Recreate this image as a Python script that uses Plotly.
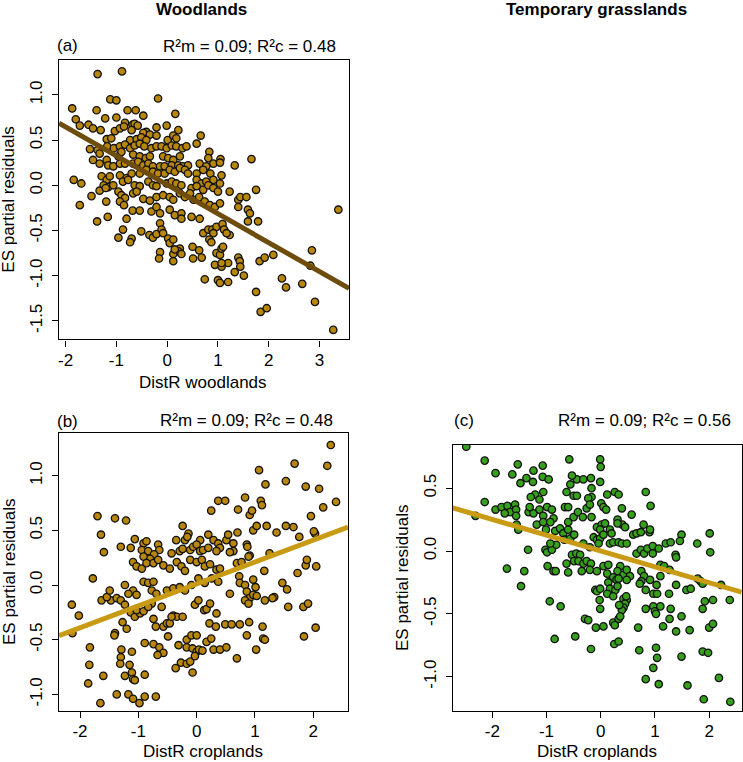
import plotly.graph_objects as go

W, H = 743, 762
FONT = "Liberation Sans, Arial, sans-serif"

# ---------------- data ----------------
col_titles = ["Woodlands", "Temporary grasslands"]
panel_tags = ["(a)", "(b)", "(c)"]
r2_texts = ["R²m = 0.09; R²c = 0.48", "R²m = 0.09; R²c = 0.48", "R²m = 0.09; R²c = 0.56"]
x_titles = ["DistR woodlands", "DistR croplands", "DistR croplands"]
y_title = "ES partial residuals"

# panel (a): DistR woodlands vs ES partial residuals
pts_a = [(-1.37,1.23),(-0.89,1.26),(-0.18,0.96),(-1.12,0.95),(-1.0,0.94),(-1.87,0.85),(-1.39,0.83),(-0.78,0.83),
 (-0.62,0.83),(0.16,0.79),(-0.47,0.77),(-1.80,0.73),(-1.22,0.74),(-1.0,0.75),(-1.72,0.66),(-1.55,0.67),(-1.46,0.63),
 (-0.83,0.69),(-0.68,0.67),(-0.64,0.68),(-0.58,0.66),(-0.01,0.66),(-0.21,0.64),(-1.31,0.61),(-1.03,0.60),(-0.93,0.63),
 (-0.85,0.65),(-0.70,0.61),(0.22,0.61),(-0.41,0.59),(-0.47,0.58),(-0.34,0.56),(0.66,0.55),(-0.21,0.55),(-1.19,0.51),
 (-1.10,0.52),(-0.73,0.50),(-0.60,0.51),(-0.51,0.53),(-0.41,0.50),(0.01,0.50),(0.12,0.55),(0.18,0.52),(-1.52,0.40),
 (-1.37,0.39),(-1.33,0.35),(-1.18,0.43),(-1.05,0.41),(-0.93,0.43),(-0.83,0.45),(-0.73,0.41),(-0.64,0.44),(-0.54,0.46),
 (-0.45,0.43),(-0.31,0.41),(-0.21,0.43),(-0.11,0.43),(-0.01,0.41),(0.09,0.44),(0.18,0.43),(0.30,0.41),(0.38,0.43),
 (0.58,0.46),(0.83,0.37),(1.05,0.29),(1.66,0.29),(1.33,0.22),(0.91,0.24),(1.04,0.25),(0.64,0.24),(0.77,0.21),(0.81,0.30),
 (-1.33,0.24),(-1.19,0.28),(-0.96,0.32),(-0.90,0.37),(-0.67,0.34),(-0.54,0.32),(-0.42,0.30),(-0.34,0.32),(-0.08,0.32),
 (0.02,0.30),(0.12,0.28),(0.25,0.32),(-1.46,0.28),(-1.16,0.22),(-1.06,0.21),(-0.93,0.24),(-0.83,0.24),(-0.67,0.24),
 (-0.57,0.26),(-0.47,0.22),(-0.37,0.24),(-0.28,0.21),(-0.14,0.21),(-0.05,0.21),(0.09,0.22),(0.22,0.22),(0.31,0.21),
 (0.41,0.22),(0.58,0.13),(0.71,0.17),(0.85,0.13),(1.07,0.11),(-1.84,0.06),(-1.69,0.02),(-1.29,0.10),(-1.19,0.06),
 (-1.13,0.10),(-0.93,0.11),(-0.80,0.08),(-0.70,0.13),(-0.54,0.13),(-0.41,0.17),(-0.28,0.15),(-0.18,0.13),(-0.05,0.13),
 (0.05,0.17),(0.15,0.15),(0.25,0.19),(0.35,0.17),(0.41,0.13),(0.58,0.06),(0.68,0.02),(0.77,0.04),(0.91,0.06),(1.04,0.02),
 (-1.25,0.0),(-1.16,-0.02),(-1.06,0.0),(-0.87,0.04),(-0.77,0.06),(-0.64,0.0),(-0.54,-0.01),(-0.37,0.04),(-0.28,0.0),
 (-0.21,-0.01),(-0.01,0.02),(0.09,0.04),(0.18,0.02),(0.28,0.0),(0.48,-0.03),(0.58,-0.01),(0.71,-0.05),(0.81,0.0),
 (0.91,-0.03),(1.0,-0.07),(1.23,-0.07),(1.75,-0.05),(-1.72,-0.22),(-1.49,-0.12),(-1.33,-0.06),(-1.21,-0.03),(-0.96,-0.07),
 (-0.90,-0.11),(-0.83,-0.14),(-1.20,-0.18),(-0.93,-0.18),(-0.85,-0.22),(-0.67,-0.09),(-0.60,-0.07),(-0.47,-0.15),
 (-0.34,-0.17),(-0.21,-0.13),(-0.08,-0.11),(0.05,-0.13),(0.12,-0.16),(0.25,-0.09),(0.35,-0.13),(0.45,-0.09),(0.52,-0.16),
 (0.63,-0.13),(0.74,-0.18),(0.84,-0.22),(0.94,-0.24),(1.04,-0.20),(1.40,-0.16),(1.44,-0.13),(1.56,-0.13),(1.40,-0.24),
 (1.59,-0.27),(1.63,-0.31),(1.59,-0.40),(1.79,-0.40),(3.37,-0.27),(-1.38,-0.40),(-1.17,-0.35),(-0.80,-0.37),(-0.68,-0.28),
 (-0.54,-0.28),(-0.31,-0.29),(-0.21,-0.24),(-0.14,-0.31),(0.05,-0.27),(0.15,-0.33),(0.28,-0.31),(0.28,-0.37),(0.48,-0.35),
 (0.64,-0.37),(0.71,-0.53),(0.81,-0.49),(0.89,-0.49),(0.97,-0.46),(1.09,-0.43),(1.12,-0.49),(1.23,-0.55),(1.17,-0.53),
 (-0.87,-0.49),(-0.96,-0.58),(-0.70,-0.59),(-0.73,-0.63),(-0.51,-0.51),(-0.35,-0.55),(-0.28,-0.58),(-0.21,-0.54),
 (-0.14,-0.42),(-0.11,-0.49),(-0.08,-0.53),(0.02,-0.59),(0.05,-0.64),(0.12,-0.60),(0.25,-0.70),(0.22,-0.73),(0.28,-0.76),
 (0.12,-0.76),(0.15,-0.71),(-0.14,-0.74),(-0.16,-0.81),(0.50,-0.68),(0.51,-0.81),(0.63,-0.72),(0.68,-0.80),(0.83,-0.60),
 (0.87,-0.63),(0.91,-0.53),(0.97,-0.75),(1.04,-0.77),(1.07,-0.70),(1.10,-0.68),(0.12,-0.84),(0.94,-0.88),(1.07,-0.90),
 (1.20,-0.86),(1.07,-0.86),(1.40,-0.80),(1.43,-0.84),(1.44,-0.90),(1.33,-0.96),(1.51,-1.0),(0.74,-1.04),(1.0,-1.05),
 (1.04,-1.08),(1.20,-1.07),(1.75,-1.18),(1.82,-0.84),(1.92,-0.80),(2.09,-0.77),(2.26,-1.03),(2.34,-1.13),(2.66,-1.09),
 (2.85,-0.72),(2.82,-0.89),(2.91,-1.29),(1.84,-1.40),(1.96,-1.36),(3.27,-1.60)]

# panel (b): DistR croplands vs ES partial residuals (woodlands)
pts_b = [(2.30,1.28),(1.68,1.11),(2.24,1.09),(1.07,1.05),(1.53,0.95),(1.18,0.92),(1.87,0.90),(2.10,0.88),(2.39,0.76),
 (2.17,0.71),(1.10,0.77),(1.12,0.73),(0.83,0.80),(0.37,0.77),(0.49,0.77),(0.25,0.68),(0.71,0.69),(0.91,0.64),(0.95,0.68),
 (1.96,0.63),(-1.70,0.63),(-1.40,0.61),(-1.21,0.59),(-1.64,0.46),(-1.59,0.30),(-1.30,0.35),(-1.13,0.34),(-1.06,0.42),
 (-1.78,0.06),(-0.24,0.54),(-0.35,0.41),(-0.20,0.41),(-0.14,0.47),(-0.16,0.44),(0.06,0.41),(0.20,0.46),(0.29,0.41),
 (0.37,0.38),(0.51,0.41),(0.54,0.46),(0.63,0.38),(0.70,0.48),(0.97,0.50),(1.03,0.54),(1.20,0.54),(1.37,0.48),(1.53,0.54),
 (1.66,0.53),(1.76,0.44),(2.03,0.47),(0.86,0.37),(0.87,0.35),(-0.91,0.38),(-0.86,0.40),(-0.94,0.32),(-0.83,0.31),
 (-0.66,0.37),(-0.64,0.32),(-0.73,0.28),(-0.80,0.24),(-0.91,0.26),(-0.43,0.29),(-0.29,0.31),(-0.24,0.33),(-0.11,0.32),
 (-0.06,0.35),(0.0,0.37),(0.06,0.31),(0.11,0.32),(0.20,0.34),(0.40,0.34),(0.34,0.31),(0.63,0.31),(0.57,0.30),(1.25,0.29),
 (-1.09,0.21),(-1.03,0.17),(-0.94,0.15),(-0.86,0.20),(-0.74,0.20),(-0.66,0.23),(-0.57,0.18),(-0.46,0.15),(-0.34,0.21),
 (-0.26,0.17),(-0.20,0.13),(-0.11,0.23),(0.0,0.21),(0.09,0.23),(0.14,0.17),(0.23,0.19),(0.34,0.14),(0.40,0.15),(0.69,0.20),
 (0.77,0.21),(0.91,0.27),(0.89,0.26),(1.16,0.13),(1.73,0.11),(1.87,0.18),(1.89,0.23),(2.05,0.17),(2.01,0.49),(-1.23,0.0),
 (-1.09,-0.05),(-1.03,-0.09),(-1.17,-0.08),(-0.91,0.03),(-0.83,0.02),(-0.74,0.03),(-0.77,-0.05),(-0.69,-0.08),(-0.51,-0.05),
 (-0.40,-0.03),(-0.29,-0.02),(-0.20,-0.05),(-0.09,0.0),(0.03,0.06),(0.14,0.02),(0.26,0.06),(0.37,0.03),(0.73,0.08),
 (0.74,0.02),(0.83,0.0),(0.97,0.05),(1.01,-0.02),(0.57,-0.08),(0.86,-0.06),(0.91,-0.12),(0.83,-0.14),(0.97,-0.09),
 (0.89,-0.17),(1.33,-0.11),(1.30,-0.12),(1.47,0.02),(1.55,-0.04),(1.17,-0.14),(1.03,-0.10),(-1.47,-0.14),(-1.63,-0.14),
 (-1.54,-0.11),(-1.37,-0.12),(-1.49,-0.05),(-1.30,-0.14),(-1.23,-0.18),(-1.13,-0.25),(-1.06,-0.29),(-0.97,-0.26),
 (-1.03,-0.23),(-0.91,-0.24),(-0.77,-0.17),(-0.83,-0.20),(-0.60,-0.20),(-0.74,-0.31),(-0.70,-0.38),(-0.57,-0.38),
 (-0.51,-0.35),(-0.46,-0.35),(-0.40,-0.28),(-0.34,-0.29),(-0.24,-0.29),(-0.43,-0.29),(-0.49,-0.47),(-0.03,-0.18),
 (0.03,-0.14),(0.13,-0.23),(0.17,-0.22),(0.23,-0.17),(0.34,-0.26),(0.22,-0.35),(0.49,-0.36),(0.60,-0.36),(0.74,-0.36),
 (0.90,-0.34),(0.33,-0.38),(0.86,-0.46),(1.13,-0.38),(1.14,-0.49),(1.17,-0.50),(1.57,-0.20),(1.83,-0.20),(1.91,-0.17),
 (2.04,-0.39),(1.84,-0.47),(-2.14,-0.18),(-2.02,-0.28),(-2.13,-0.44),(-1.83,-0.57),(-1.84,-0.73),(-1.86,-0.90),
 (-1.60,-0.83),(-1.65,-1.08),(-1.40,-0.44),(-1.41,-0.46),(-1.27,-0.34),(-1.20,-0.40),(-1.29,-0.59),(-1.30,-0.66),
 (-1.31,-0.72),(-1.23,-0.83),(-1.15,-0.73),(-1.11,-0.80),(-1.09,-0.86),(-1.06,-0.87),(-1.11,-0.61),(-1.37,-1.0),
 (-1.17,-1.0),(-1.09,-1.04),(-0.98,-1.08),(-0.89,-1.02),(-0.70,-1.02),(-0.89,-0.82),(-0.89,-0.53),(-0.74,-0.54),
 (-0.64,-0.57),(-0.57,-0.62),(-0.67,-0.64),(-0.36,-0.76),(-0.27,-0.71),(-0.17,-0.72),(-0.07,-0.80),(-0.11,-0.70),
 (-0.31,-0.55),(-0.17,-0.50),(-0.09,-0.46),(0.0,-0.46),(-0.17,-0.57),(-0.07,-0.58),(0.0,-0.61),(0.04,-0.59),(-0.03,-0.65),
 (0.10,-0.60),(0.17,-0.52),(0.25,-0.49),(0.29,-0.59),(0.40,-0.59),(0.51,-0.57),(0.69,-0.67),(1.02,-0.59)]

# panel (c): DistR croplands vs ES partial residuals (temporary grasslands)
pts_c = [(-2.48,0.83),(-2.14,0.72),(-1.94,0.62),(-2.14,0.39),(-2.31,0.28),(-1.94,0.33),(-1.83,0.35),(-1.72,0.36),
 (-1.58,0.37),(-1.67,0.31),(-1.77,0.30),(-1.56,0.33),(-1.63,0.61),(-1.53,0.69),(-1.37,0.58),(-1.24,0.64),(-1.07,0.68),
 (-1.07,0.59),(-0.96,0.57),(-1.25,0.55),(-1.48,0.54),(-1.21,0.45),(-1.13,0.41),(-1.29,0.43),(-1.06,0.47),(-1.33,0.31),
 (-1.24,0.30),(-1.13,0.33),(-1.31,0.35),(-0.99,0.35),(-0.90,0.33),(-1.06,0.28),(-0.87,0.26),(-1.18,0.21),(-1.06,0.23),
 (-0.93,0.23),(-1.01,0.17),(-0.84,0.16),(-1.56,0.28),(-1.55,0.21),(-1.52,0.17),(-0.75,0.18),(-0.69,0.14),(-0.60,0.17),
 (-1.34,0.01),(-1.02,0.01),(-0.99,-0.01),(-0.90,0.01),(-0.82,0.05),(-0.93,0.06),(-1.73,-0.14),(-1.41,-0.16),(-1.47,-0.28),
 (-0.98,-0.12),(-0.87,-0.16),(-0.83,-0.16),(-0.63,-0.10),(-0.60,-0.17),(-0.53,-0.03),(-0.45,-0.02),(-0.38,-0.03),
 (-0.49,-0.08),(-0.41,-0.08),(-0.32,-0.10),(-0.26,-0.08),(-0.18,-0.10),(-0.35,-0.16),(-0.20,-0.15),(-0.07,-0.16),
 (0.05,-0.12),(0.14,-0.11),(-0.67,0.09),(-0.56,0.10),(-0.49,0.13),(-0.60,0.23),(-0.50,0.27),(-0.42,0.31),(-0.33,0.27),
 (-0.26,0.34),(-0.17,0.27),(-0.66,0.35),(-0.60,0.35),(-0.50,0.44),(-0.44,0.44),(-0.63,0.47),(-0.56,0.53),(-0.44,0.57),
 (-0.58,0.73),(-0.53,0.60),(-0.32,0.57),(-0.18,0.58),(-0.17,0.50),(-0.01,0.73),(0.0,0.67),(-0.01,0.55),(-0.17,0.43),
 (-0.23,0.42),(-0.20,0.37),(0.01,0.38),(0.05,0.35),(0.10,0.33),(0.12,0.45),(0.26,0.47),(0.33,0.45),(0.39,0.34),(0.57,0.29),
 (0.31,0.25),(0.40,0.21),(0.45,0.19),(0.31,0.22),(-0.07,0.19),(0.02,0.21),(0.08,0.22),(-0.01,0.17),(0.17,0.17),(0.20,0.14),
 (-0.13,0.11),(-0.07,0.09),(-0.01,0.10),(0.05,0.13),(-0.32,0.06),(-0.20,0.03),(-0.04,0.06),(0.17,0.06),(0.23,0.07),
 (0.33,0.07),(0.39,0.06),(0.48,0.06),(0.60,0.13),(0.66,0.14),(0.74,0.15),(0.79,0.21),(0.90,0.15),(0.91,0.17),(0.83,0.47),
 (0.92,0.36),(0.66,-0.02),(0.74,0.01),(0.80,-0.02),(0.86,0.02),(0.96,0.04),(1.07,0.02),(1.20,0.06),(1.29,0.07),(1.49,0.13),
 (1.46,0.08),(1.78,0.06),(1.38,-0.03),(1.39,-0.05),(0.96,-0.02),(2.01,0.14),(2.02,-0.01),(1.10,-0.11),(1.17,-0.12),
 (1.27,-0.15),(1.10,-0.20),(0.75,-0.16),(0.80,-0.20),(0.91,-0.23),(0.75,-0.24),(0.72,-0.26),(0.36,-0.12),(0.31,-0.16),
 (0.42,-0.19),(0.48,-0.15),(0.54,-0.20),(0.12,-0.18),(0.23,-0.21),(0.29,-0.23),(0.33,-0.22),(0.48,-0.23),(0.14,-0.25),
 (0.17,-0.30),(0.27,-0.31),(0.31,-0.28),(0.12,-0.34),(0.23,-0.36),(-0.10,-0.31),(-0.07,-0.32),(-0.01,-0.30),(0.42,-0.38),
 (0.48,-0.39),(0.45,-0.42),(0.42,-0.45),(0.39,-0.47),(0.83,-0.31),(0.97,-0.34),(1.04,-0.34),(1.03,-0.27),(1.26,-0.34),
 (1.39,-0.27),(1.58,-0.31),(1.66,-0.30),(1.79,-0.22),(1.84,-0.24),(1.88,-0.26),(2.22,-0.27),(1.92,-0.40),(2.07,-0.39),
 (2.38,-0.39),(0.83,-0.46),(0.97,-0.44),(1.0,-0.48),(1.02,-0.50),(1.10,-0.44),(1.29,-0.46),(1.27,-0.54),(1.15,-0.60),
 (1.49,-0.52),(1.39,-0.64),(1.64,-0.63),(1.88,-0.46),(2.0,-0.61),(2.07,-0.58),(1.49,-0.84),(-0.02,-0.39),(-0.01,-0.46),
 (-0.09,-0.61),(0.05,-0.60),(-0.29,-0.54),(-0.23,-0.55),(0.23,-0.57),(0.33,-0.54),(0.36,-0.52),(0.26,-0.59),(0.34,-0.43),
 (0.47,-0.36),(0.25,-0.74),(0.33,-0.72),(0.69,-0.61),(0.71,-0.79),(1.02,-0.77),(1.04,-0.85),(0.97,-0.93),(1.07,-1.06),
 (0.83,-1.02),(1.60,-1.07),(1.88,-0.80),(1.98,-0.81),(2.18,-1.01),(1.90,-1.18),(2.39,-1.20),(-0.18,-0.78),(-0.47,-0.68),
 (-0.85,-0.70),(-0.94,-0.40),(-0.74,-0.44)]

# fitted lines (slope, intercept)
fit_a = (-0.32, 0.005)
fit_b = (0.20, 0.01)
fit_c = (-0.126, 0.0)

# axis ranges and ticks
xrange_a, yrange_a = [-2.13, 3.58], [-1.704, 1.386]
xrange_b, yrange_b = [-2.36, 2.595], [-1.149, 1.387]
xrange_c, yrange_c = [-2.73, 2.60], [-1.271, 0.844]
xticks_a = [-2, -1, 0, 1, 2, 3]
yticks_a = [-1.5, -1.0, -0.5, 0.0, 0.5, 1.0]
xticks_bc = [-2, -1, 0, 1, 2]
yticks_b = [-1.0, -0.5, 0.0, 0.5, 1.0]
yticks_c = [-1.0, -0.5, 0.0, 0.5]

# ---------------- styling ----------------
BROWN_FILL = "#B8860B"
GREEN_FILL = "#36A01C"
LINE_DARK = "#6E4C0C"
LINE_GOLD = "#C99A14"


def px_x(p):
    return p / W


def px_y(p):
    return 1 - p / H


dom = {
    "a": ([59 / W, 349 / W], [px_y(339.3), px_y(60)]),
    "b": ([59 / W, 348 / W], [px_y(710.7), px_y(433.3)]),
    "c": ([452.7 / W, 741.7 / W], [px_y(710.7), px_y(445)]),
}

fig = go.Figure()


def fmt_x(v):
    return str(int(v))


def fmt_y(v):
    return f"{v:.1f}"


panels = [
    ("a", pts_a, fit_a, xrange_a, yrange_a, xticks_a, yticks_a, BROWN_FILL, LINE_DARK, "x", "y"),
    ("b", pts_b, fit_b, xrange_b, yrange_b, xticks_bc, yticks_b, BROWN_FILL, LINE_GOLD, "x2", "y2"),
    ("c", pts_c, fit_c, xrange_c, yrange_c, xticks_bc, yticks_c, GREEN_FILL, LINE_GOLD, "x3", "y3"),
]

layout_axes = {}
for i, (key, pts, fit, xr, yr, xt, yt, fill, lcol, xa, ya) in enumerate(panels):
    xs = [p[0] for p in pts]
    ys = [p[1] for p in pts]
    fig.add_trace(go.Scatter(
        x=xs, y=ys, mode="markers", xaxis=xa, yaxis=ya, showlegend=False,
        marker=dict(size=7.4, color=fill, line=dict(color="#111111", width=1.3)),
        hoverinfo="skip"))
    m, b = fit
    fig.add_trace(go.Scatter(
        x=[xr[0], xr[1]], y=[m * xr[0] + b, m * xr[1] + b], mode="lines",
        xaxis=xa, yaxis=ya, showlegend=False, line=dict(color=lcol, width=5),
        hoverinfo="skip"))
    xd, yd = dom[key]
    suffix = "" if i == 0 else str(i + 1)
    common = dict(showline=True, mirror=True, linecolor="black", linewidth=1.4,
                  ticks="outside", ticklen=6, tickwidth=1.2, tickcolor="black",
                  showgrid=False, zeroline=False,
                  tickfont=dict(family=FONT, size=17, color="black"))
    layout_axes["xaxis" + suffix] = dict(
        domain=xd, range=xr, tickvals=xt, ticktext=[fmt_x(v) for v in xt],
        anchor=ya, ticklabelstandoff=-1, **common)
    layout_axes["yaxis" + suffix] = dict(
        domain=yd, range=yr, tickvals=yt, ticktext=[fmt_y(v) for v in yt],
        anchor=xa, tickangle=-90, ticklabelstandoff=3, **common)

fig.update_layout(**layout_axes)

ann = []
tfont = dict(family=FONT, size=17, color="black")
# column titles
ann.append(dict(text="<b>" + col_titles[0] + "</b>", x=px_x(201.7), y=px_y(9.5)))
ann.append(dict(text="<b>" + col_titles[1] + "</b>", x=px_x(596.7), y=px_y(9.5)))
# panel tags
ann.append(dict(text=panel_tags[0], x=px_x(55), y=px_y(45), xanchor="left"))
ann.append(dict(text=panel_tags[1], x=px_x(55), y=px_y(421), xanchor="left"))
ann.append(dict(text=panel_tags[2], x=px_x(452), y=px_y(420), xanchor="left"))
# R2 texts
ann.append(dict(text=r2_texts[0], x=px_x(338), y=px_y(46), xanchor="right"))
ann.append(dict(text=r2_texts[1], x=px_x(335), y=px_y(420), xanchor="right"))
ann.append(dict(text=r2_texts[2], x=px_x(733), y=px_y(420), xanchor="right"))
# x axis titles
ann.append(dict(text=x_titles[0], x=px_x(203), y=px_y(382)))
ann.append(dict(text=x_titles[1], x=px_x(203), y=px_y(751.5)))
ann.append(dict(text=x_titles[2], x=px_x(597), y=px_y(751.5)))
# y axis titles
ann.append(dict(text=y_title, x=px_x(9), y=px_y(199.7), textangle=-90))
ann.append(dict(text=y_title, x=px_x(9), y=px_y(572), textangle=-90))
ann.append(dict(text=y_title, x=px_x(402), y=px_y(578), textangle=-90))

for a in ann:
    a.setdefault("xanchor", "center")
    a.update(xref="paper", yref="paper", yanchor="middle", showarrow=False, font=tfont)

fig.update_layout(
    annotations=ann,
    width=W, height=H,
    margin=dict(l=0, r=0, t=0, b=0),
    paper_bgcolor="white", plot_bgcolor="white",
    font=dict(family=FONT, size=17, color="black"),
    showlegend=False,
)

# remove the browser's default 8px body margin so the figure fills the window
fig.write_html(
    "out.html",
    config={"displayModeBar": False},
    post_script="document.body.style.margin='0';document.body.style.overflow='hidden';",
)
